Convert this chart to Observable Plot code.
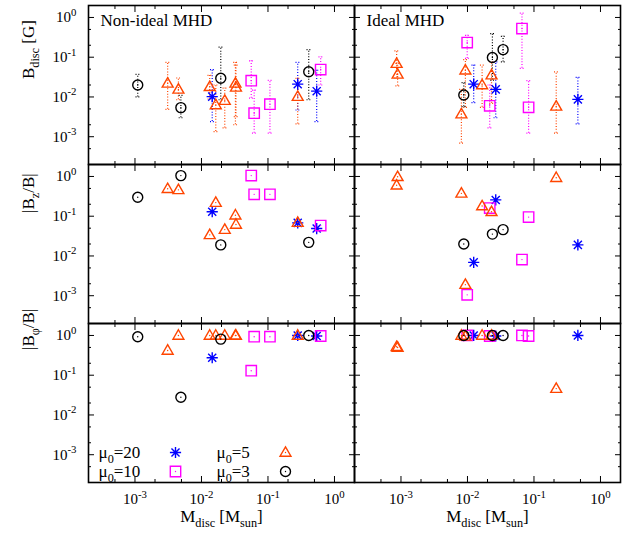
<!DOCTYPE html>
<html><head><meta charset="utf-8">
<script src="https://cdn.jsdelivr.net/npm/d3@7"></script>
<script src="https://cdn.jsdelivr.net/npm/@observablehq/plot@0.6"></script>
<style>body{margin:0;background:#fff}#chart{width:625px;height:541px}</style>
</head><body><div id="chart"></div>
<script>
// ---------- data ----------
const regimes = ["Non-ideal MHD", "Ideal MHD"];
const panels = ["B", "Bz", "Bphi"];
const panelLabels = ["B_{disc} [G]", "|B_{z}/B|", "|B_{φ}/B|"];
const xLabel = "M_{disc} [M_{sun}]";
const muLevels = [20, 10, 5, 3];
const muColors = ["#0000ff", "#ff00ff", "#ff4500", "#000000"];
const legendLabels = ["μ_{0}=20", "μ_{0}=10", "μ_{0}=5", "μ_{0}=3"];
const majorTicks = [1e-3, 1e-2, 1e-1, 1];
const majorTickLabels = ["10^{-3}", "10^{-2}", "10^{-1}", "10^{0}"];
const minorTicks = [5e-4, 2e-3, 5e-3, 2e-2, 5e-2, 0.2, 0.5];

// Non-ideal MHD
const nonIdealMu =    [3, 5, 5, 3, 5, 20, 5, 3, 5, 5, 5, 10, 10, 10, 5, 20, 3, 20, 10];
const nonIdealMass =  [1.1e-3, 3.1e-3, 4.5e-3, 4.9e-3, 0.0133, 0.0145, 0.0164, 0.0195, 0.0224, 0.0324, 0.033, 0.056, 0.062, 0.107, 0.28, 0.28, 0.41, 0.54, 0.62];
const nonIdealB =     [0.020, 0.022, 0.0155, 0.0054, 0.018, 0.0102, 0.0063, 0.0295, 0.0081, 0.022, 0.0174, 0.0257, 0.0039, 0.0066, 0.0102, 0.021, 0.043, 0.014, 0.049];
const nonIdealBLow =  [0.010, 0.0049, 0.0085, 0.0030, 0.0089, 0.0024, 0.00135, 0.0085, 0.00166, 0.002, 0.0032, 0.0093, 0.00123, 0.00123, 0.0021, 0.0047, 0.0085, 0.0024, 0.020];
const nonIdealBHigh = [0.037, 0.074, 0.030, 0.011, 0.035, 0.049, 0.020, 0.18, 0.0166, 0.074, 0.063, 0.081, 0.0148, 0.026, 0.0295, 0.074, 0.155, 0.047, 0.102];
const nonIdealBz =    [0.30, 0.49, 0.46, 1.05, 0.034, 0.13, 0.22, 0.019, 0.046, 0.106, 0.062, 1.05, 0.355, 0.355, 0.069, 0.068, 0.022, 0.049, 0.058];
const nonIdealBphi =  [0.93, 0.42, 1.0, 0.028, 1.0, 0.275, 1.0, 0.81, 1.0, 1.0, 1.0, 0.13, 0.93, 0.93, 1.0, 1.0, 1.0, 0.97, 0.97];

// Ideal MHD
const idealMu =    [5, 5, 5, 3, 5, 10, 20, 5, 10, 5, 3, 20, 3, 10, 10, 5, 20];
const idealMass =  [8.6e-4, 8.9e-4, 8.1e-3, 8.8e-3, 9.3e-3, 9.9e-3, 0.0124, 0.0166, 0.0216, 0.023, 0.0237, 0.0266, 0.0343, 0.066, 0.083, 0.216, 0.457];
const idealB =     [0.069, 0.037, 0.0037, 0.0112, 0.047, 0.234, 0.021, 0.020, 0.006, 0.0355, 0.098, 0.0155, 0.155, 0.525, 0.0055, 0.0058, 0.0087];
const idealBLow =  [0.030, 0.019, 0.00069, 0.0057, 0.0055, 0.093, 0.0072, 0.0055, 0.00166, 0.0069, 0.0266, 0.003, 0.076, 0.0525, 0.00123, 0.00123, 0.0021];
const idealBHigh = [0.145, 0.07, 0.0155, 0.023, 0.087, 0.355, 0.063, 0.063, 0.020, 0.076, 0.39, 0.076, 0.335, 1.29, 0.0257, 0.043, 0.031];
const idealBz =    [0.60, 0.98, 0.376, 0.02, 0.0019, 0.00105, 0.0069, 0.18, 0.16, 0.129, 0.0355, 0.257, 0.046, 0.0081, 0.095, 0.93, 0.019];
const idealBphi =  [0.52, 0.50, 1.0, 1.0, 0.95, 1.0, 1.0, 1.0, 0.97, 1.0, 1.0, 0.97, 1.0, 1.0, 0.97, 0.046, 1.0];

// ---------- build tables ----------
function buildRows(regime, mu, mass, b, lo, hi, bz, bphi) {
  const pts = [], errs = [];
  mass.forEach((m, i) => {
    pts.push({regime, panel: "B", mu: mu[i], mass: m, value: b[i]});
    pts.push({regime, panel: "Bz", mu: mu[i], mass: m, value: bz[i]});
    pts.push({regime, panel: "Bphi", mu: mu[i], mass: m, value: bphi[i]});
    errs.push({regime, panel: "B", mu: mu[i], mass: m, lo: lo[i], hi: hi[i]});
  });
  return {pts, errs};
}
const A = buildRows(regimes[0], nonIdealMu, nonIdealMass, nonIdealB, nonIdealBLow, nonIdealBHigh, nonIdealBz, nonIdealBphi);
const B = buildRows(regimes[1], idealMu, idealMass, idealB, idealBLow, idealBHigh, idealBz, idealBphi);
const points = A.pts.concat(B.pts);
const errors = A.errs.concat(B.errs);

// ---------- symbols ----------
const rad = s => Math.sqrt(s / Math.PI);
const starSym = {draw(c, s) { const r = rad(s), d = r * 0.72;
  c.moveTo(-r, 0); c.lineTo(r, 0); c.moveTo(0, -r); c.lineTo(0, r);
  c.moveTo(-d, -d); c.lineTo(d, d); c.moveTo(-d, d); c.lineTo(d, -d); }};
const squareSym = {draw(c, s) { const r = rad(s); c.moveTo(-r, -r); c.lineTo(r, -r); c.lineTo(r, r); c.lineTo(-r, r); c.closePath(); }};
const triSym = {draw(c, s) { const r = rad(s); c.moveTo(0, -r * 1.1); c.lineTo(r * 1.05, r * 0.72); c.lineTo(-r * 1.05, r * 0.72); c.closePath(); }};
const circSym = {draw(c, s) { const r = rad(s); c.moveTo(r, 0); c.arc(0, 0, r, 0, 2 * Math.PI); }};
const capSym = {draw(c, s) { const r = rad(s); c.moveTo(-r, 0); c.lineTo(r, 0); }};
const muSymbols = [starSym, squareSym, triSym, circSym];
const muRadius = [5.6, 5.2, 5.2, 5.0];

const FONT = "'Liberation Serif', 'Times New Roman', serif";
const marks = [];

// error bars (top panels)
muLevels.forEach((mu, k) => {
  const d = errors.filter(e => e.mu === mu);
  const common = {fx: "regime", fy: "panel", x: "mass", stroke: muColors[k], strokeWidth: 1.2, strokeDasharray: "1,1.8"};
  marks.push(Plot.ruleX(d, {...common, y1: "lo", y2: "hi"}));
  marks.push(Plot.dot(d, {...common, y: "lo", symbol: capSym, r: 2.2, fill: "none"}));
  marks.push(Plot.dot(d, {...common, y: "hi", symbol: capSym, r: 2.2, fill: "none"}));
});
// markers
muLevels.forEach((mu, k) => {
  const d = points.filter(p => p.mu === mu);
  marks.push(Plot.dot(d, {fx: "regime", fy: "panel", x: "mass", y: "value", symbol: muSymbols[k], r: muRadius[k], stroke: muColors[k], strokeWidth: 1.4, fill: "none"}));
  marks.push(Plot.dot(d, {fx: "regime", fy: "panel", x: "mass", y: "value", r: 0.7, fill: muColors[k], stroke: "none"}));
});

// frames & ticks
marks.push(Plot.frame({stroke: "black", strokeWidth: 1.6}));
for (const [vals, len] of [[majorTicks, -6], [minorTicks, -3]]) {
  marks.push(Plot.axisX(vals, {anchor: "bottom", tickSize: len, fill: "none", label: null, facetAnchor: null, strokeWidth: 1}));
  marks.push(Plot.axisX(vals, {anchor: "top", tickSize: len, fill: "none", label: null, facetAnchor: null, strokeWidth: 1}));
  marks.push(Plot.axisY(vals, {anchor: "left", tickSize: len, fill: "none", label: null, facetAnchor: null, strokeWidth: 1}));
  marks.push(Plot.axisY(vals, {anchor: "right", tickSize: len, fill: "none", label: null, facetAnchor: null, strokeWidth: 1}));
}
const tickFmt = v => majorTickLabels[majorTicks.indexOf(v)];
marks.push(Plot.axisX(majorTicks, {anchor: "bottom", tickSize: 0, tickPadding: 11, tickFormat: tickFmt, label: null, fontSize: 15}));
marks.push(Plot.axisY(majorTicks, {anchor: "left", tickSize: 0, tickPadding: 12, tickFormat: tickFmt, label: null, fontSize: 15}));

// panel titles
marks.push(Plot.text(regimes.map(r => ({regime: r, panel: "B", t: r})),
  {fx: "regime", fy: "panel", text: "t", frameAnchor: "top-left", dx: 12, dy: 8, lineAnchor: "top", textAnchor: "start", fontSize: 17}));
// y labels
const yLabelShift = [-6, -31, -53];
panels.forEach((p, i) => {
  marks.push(Plot.text([{regime: regimes[0], panel: p, t: panelLabels[i]}],
    {fx: "regime", fy: "panel", text: "t", frameAnchor: "left", rotate: -90, dx: -60, dy: yLabelShift[i], lineAnchor: "middle", fontSize: 17}));
});
// x labels
marks.push(Plot.text(regimes.map(r => ({regime: r, panel: "Bphi", t: xLabel})),
  {fx: "regime", fy: "panel", text: "t", frameAnchor: "bottom", dy: 34, lineAnchor: "middle", fontSize: 17}));
// legend
muLevels.forEach((mu, k) => {
  const row = k % 2, col = Math.floor(k / 2);
  const item = [{regime: regimes[0], panel: "Bphi", t: legendLabels[k]}];
  const dy = row === 0 ? -30 : -11;
  marks.push(Plot.text(item, {fx: "regime", fy: "panel", text: "t", frameAnchor: "bottom-left", dx: 10 + col * 118, dy, textAnchor: "start", lineAnchor: "middle", fontSize: 17}));
  marks.push(Plot.dot(item, {fx: "regime", fy: "panel", frameAnchor: "bottom-left", dx: 87 + col * 110, dy, symbol: muSymbols[k], r: muRadius[k], stroke: muColors[k], strokeWidth: 1.4, fill: "none"}));
  marks.push(Plot.dot(item, {fx: "regime", fy: "panel", frameAnchor: "bottom-left", dx: 87 + col * 110, dy, r: 0.7, fill: muColors[k], stroke: "none"}));
});

const plot = Plot.plot({
  width: 625, height: 541,
  marginLeft: 87, marginRight: 5, marginTop: 4, marginBottom: 58,
  style: {fontFamily: FONT, fontSize: "15px", background: "white", color: "black"},
  x: {type: "log", domain: [2e-4, 2]},
  y: {type: "log", domain: [2e-4, 2]},
  fx: {domain: regimes, padding: 0, axis: null},
  fy: {domain: panels, padding: 0, axis: null},
  marks
});
document.getElementById("chart").append(plot);

// render ^{..} and _{..} as super/subscripts
function richText(svg) {
  const ns = "http://www.w3.org/2000/svg";
  svg.querySelectorAll("text").forEach(t => {
    const s = t.textContent;
    if (!/[\^_]\{/.test(s)) return;
    const base = parseFloat(getComputedStyle(t).fontSize) || 15;
    while (t.firstChild) t.removeChild(t.firstChild);
    const parts = [];
    const re = /([\^_])\{([^}]*)\}/g;
    let last = 0, m;
    while ((m = re.exec(s))) {
      if (m.index > last) parts.push(["", s.slice(last, m.index)]);
      parts.push([m[1], m[2]]);
      last = re.lastIndex;
    }
    if (last < s.length) parts.push(["", s.slice(last)]);
    let shift = 0;
    for (const [k, str] of parts) {
      const ts = document.createElementNS(ns, "tspan");
      const target = k === "^" ? -0.42 * base : k === "_" ? 0.3 * base : 0;
      const d = target - shift;
      if (d) ts.setAttribute("dy", d.toFixed(2));
      shift = target;
      if (k) ts.setAttribute("font-size", (0.72 * base).toFixed(2));
      ts.textContent = str;
      t.appendChild(ts);
    }
  });
}
richText(plot);
</script></body></html>
